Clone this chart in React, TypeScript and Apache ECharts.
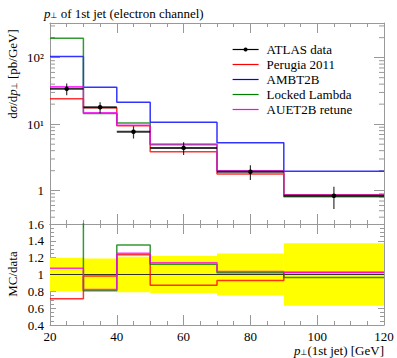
import React, { useEffect, useRef } from 'react';
import * as echarts from 'echarts';

// ---- data ----
const binEdges = [20, 30, 40, 50, 70, 90, 120];
const binCenters = [25, 35, 45, 60, 80, 105];
const dataValues = [34, 18.0, 7.7, 4.4, 1.93, 0.84];
const dataRelErr = [0.2, 0.19, 0.21, 0.22, 0.25, 0.37];
const perugia2011 = [24.2, 17.7, 9.5, 3.84, 1.79, 0.86];
const ambt2b = [104, 36, 21.4, 10.7, 5.25, 1.97];
const lockedLambda = [196, 14.5, 10.4, 4.93, 1.97, 0.81];
const auet2bRetune = [36.5, 14.8, 9.64, 5.02, 2.0, 0.863];
const mainMajorLabels: Record<string, string> = { '1': '1', '10': '10¹', '100': '10²' };
const logMinorTicks = [0.4, 0.5, 0.6, 0.7, 0.8, 0.9, 2, 3, 4, 5, 6, 7, 8, 9, 20, 30, 40, 50, 60, 70, 80, 90, 200, 300];

const FONT = '"Liberation Serif", "DejaVu Serif", serif';
const FS = 13;
const AX = '#999';

const mcSeries = [
  { name: 'Perugia 2011', values: perugia2011, color: '#ff0000' },
  { name: 'AMBT2B', values: ambt2b, color: '#0000ff' },
  { name: 'Locked Lambda', values: lockedLambda, color: '#008000' },
  { name: 'AUET2B retune', values: auet2bRetune, color: '#ff00ff' },
];

const stepData = (vals: number[]) => binEdges.map((x, i) => [x, vals[Math.min(i, vals.length - 1)]]);

export default function App() {
  const ref = useRef<HTMLDivElement>(null);
  useEffect(() => {
    if (!ref.current) return;
    const chart = echarts.init(ref.current, undefined, { renderer: 'svg' });

    const xCommon = (gridIndex: number, position: string, showLabel: boolean) => ({
      type: 'value', gridIndex, position, min: 20, max: 120, interval: 20,
      axisLine: { show: true, lineStyle: { color: AX, width: 1 } },
      axisTick: { show: true, inside: true, length: 10, lineStyle: { color: AX } },
      minorTick: { show: true, splitNumber: 4, length: 4, lineStyle: { color: AX } },
      splitLine: { show: false },
      axisLabel: { show: showLabel, margin: 5, color: '#000', fontFamily: FONT, fontSize: FS, lineHeight: 12, hideOverlap: false },
    });
    const yLog = (position: string, showLabel: boolean) => ({
      type: 'log', logBase: 10, gridIndex: 0, position, min: 0.316, max: 332,
      axisLine: { show: true, lineStyle: { color: AX, width: 1 } },
      axisTick: { show: true, inside: true, length: 10, lineStyle: { color: AX } },
      splitLine: { show: false },
      axisLabel: {
        show: showLabel, margin: 6, color: '#000', fontFamily: FONT, fontSize: FS,
        showMinLabel: false, showMaxLabel: false,
        formatter: (v: number) => mainMajorLabels[String(Math.round(v * 1000) / 1000)] ?? '',
      },
    });
    const yRatio = (position: string, showLabel: boolean) => ({
      type: 'value', gridIndex: 1, position, min: 0.4, max: 1.6, interval: 0.2,
      axisLine: { show: true, lineStyle: { color: AX, width: 1 } },
      axisTick: { show: true, inside: true, length: 6, lineStyle: { color: AX } },
      minorTick: { show: true, splitNumber: 4, length: 4, lineStyle: { color: AX } },
      splitLine: { show: false },
      axisLabel: {
        show: showLabel, margin: 6, color: '#000', fontFamily: FONT, fontSize: FS,
        formatter: (v: number) => String(Math.round(v * 10) / 10),
      },
    });

    const series: any[] = [];
    // ratio band (data uncertainty)
    series.push({
      type: 'custom', name: 'data band', xAxisIndex: 2, yAxisIndex: 2, z: 1,
      data: binCenters.map((_, i) => [binEdges[i], binEdges[i + 1], 1 - dataRelErr[i], 1 + dataRelErr[i]]),
      encode: { x: [0, 1], y: [2, 3] },
      renderItem: (params: any, api: any) => {
        const a = api.coord([api.value(0), api.value(3)]);
        const b = api.coord([api.value(1), api.value(2)]);
        const c1 = api.coord([api.value(0), 1]);
        const c2 = api.coord([api.value(1), 1]);
        return {
          type: 'group', children: [
            { type: 'rect', shape: { x: a[0], y: a[1], width: b[0] - a[0], height: b[1] - a[1] }, style: { fill: '#ffff00' } },
            { type: 'line', shape: { x1: c1[0], y1: c1[1], x2: c2[0], y2: c2[1] }, style: { stroke: '#333', lineWidth: 1 } },
          ],
        };
      },
    });
    // data bars + errors (main)
    series.push({
      type: 'custom', name: 'data bars', xAxisIndex: 0, yAxisIndex: 0, z: 5,
      data: binCenters.map((c, i) => [binEdges[i], binEdges[i + 1], c, dataValues[i], dataValues[i] * (1 - dataRelErr[i]), dataValues[i] * (1 + dataRelErr[i])]),
      encode: { x: [0, 1, 2], y: [3, 4, 5] },
      renderItem: (params: any, api: any) => {
        const y = api.value(3);
        const p1 = api.coord([api.value(0), y]);
        const p2 = api.coord([api.value(1), y]);
        const e1 = api.coord([api.value(2), api.value(4)]);
        const e2 = api.coord([api.value(2), api.value(5)]);
        return {
          type: 'group', children: [
            { type: 'line', shape: { x1: p1[0], y1: p1[1], x2: p2[0], y2: p2[1] }, style: { stroke: '#000', lineWidth: 2, opacity: 0.8 } },
            { type: 'line', shape: { x1: e1[0], y1: e1[1], x2: e2[0], y2: e2[1] }, style: { stroke: '#000', lineWidth: 1.2, opacity: 0.8 } },
          ],
        };
      },
    });
    // data points (legend entry)
    const pts: any[] = [];
    binCenters.forEach((c, i) => { pts.push([c, dataValues[i]]); if (i < binCenters.length - 1) pts.push([binEdges[i + 1], '-']); });
    series.push({
      type: 'line', name: 'ATLAS data', xAxisIndex: 0, yAxisIndex: 0, z: 6,
      data: pts, symbol: 'circle', symbolSize: 4.5, showSymbol: true, showAllSymbol: true, connectNulls: false,
      itemStyle: { color: '#000' }, lineStyle: { color: '#000', width: 1.2 },
    });
    // MC main + ratio
    mcSeries.forEach((m) => {
      series.push({
        type: 'line', name: m.name, xAxisIndex: 0, yAxisIndex: 0, step: 'end', symbol: 'none', z: 3,
        data: stepData(m.values), lineStyle: { color: m.color, width: 1.5, opacity: 0.8 }, itemStyle: { color: m.color },
      });
      series.push({
        type: 'line', name: m.name, xAxisIndex: 2, yAxisIndex: 2, step: 'end', symbol: 'none', z: 3,
        data: stepData(m.values.map((v, i) => v / dataValues[i])), lineStyle: { color: m.color, width: 1.5, opacity: 0.8 }, itemStyle: { color: m.color },
      });
    });
    // log minor ticks on both sides of main plot
    series.push({
      type: 'custom', name: 'minor ticks', xAxisIndex: 0, yAxisIndex: 0, z: 2, silent: true,
      data: logMinorTicks.map((v) => [20, v]),
      encode: { x: 0, y: 1 },
      renderItem: (params: any, api: any) => {
        const v = api.value(1);
        const l = api.coord([20, v]);
        const r = api.coord([120, v]);
        return {
          type: 'group', children: [
            { type: 'line', shape: { x1: l[0], y1: l[1], x2: l[0] + 5, y2: l[1] }, style: { stroke: AX, lineWidth: 1 } },
            { type: 'line', shape: { x1: r[0] - 5, y1: r[1], x2: r[0], y2: r[1] }, style: { stroke: AX, lineWidth: 1 } },
          ],
        };
      },
    });

    const perp = { fontSize: 8, fontFamily: 'DejaVu Sans', verticalAlign: 'bottom' };
    const ital = { fontStyle: 'italic', fontFamily: FONT, fontSize: FS };
    const option: any = {
      animation: false,
      grid: [
        { left: 50, right: 13, top: 23, height: 201 },
        { left: 50, right: 13, top: 224, height: 101 },
      ],
      xAxis: [xCommon(0, 'bottom', false), xCommon(0, 'top', false), xCommon(1, 'bottom', true), xCommon(1, 'top', false)],
      yAxis: [yLog('left', true), yLog('right', false), yRatio('left', true), yRatio('right', false)],
      legend: {
        orient: 'vertical', left: 227, top: 37, itemWidth: 26, itemHeight: 5, itemGap: 0,
        selectedMode: false,
        lineStyle: { width: 1.2, opacity: 1 },
        textStyle: { fontFamily: FONT, fontSize: FS, color: '#000', lineHeight: 15, padding: [0, 0, 0, 3] },
        data: [
          { name: 'ATLAS data' },
          ...mcSeries.map((m) => ({ name: m.name, itemStyle: { opacity: 0 } })),
        ],
      },
      graphic: [
        {
          type: 'text', x: 44, y: 13,
          style: {
            text: '{i|p}{s|⊥} of 1st jet (electron channel)', align: 'left', verticalAlign: 'middle',
            font: `${FS}px ${FONT}`, fill: '#000',
            rich: { i: ital, s: perp },
          },
        },
        {
          type: 'text', x: 12, y: 74, rotation: Math.PI / 2,
          style: {
            text: 'd{g|σ}/d{i|p}{s|⊥} [pb/GeV]', align: 'center', verticalAlign: 'middle',
            font: `${FS}px ${FONT}`, fill: '#000',
            rich: { i: ital, g: ital, s: perp },
          },
        },
        {
          type: 'text', x: 12, y: 274, rotation: Math.PI / 2,
          style: { text: 'MC/data', align: 'center', verticalAlign: 'middle', font: `${FS}px ${FONT}`, fill: '#000' },
        },
        {
          type: 'text', x: 384, y: 350,
          style: {
            text: '{i|p}{s|⊥}(1st jet) [GeV]', align: 'right', verticalAlign: 'middle',
            font: `${FS}px ${FONT}`, fill: '#000',
            rich: { i: ital, s: perp },
          },
        },
      ],
      series,
    };
    chart.setOption(option);
    return () => chart.dispose();
  }, []);
  return <div ref={ref} style={{ position: 'absolute', left: 0, top: 0, width: 397, height: 358 }} />;
}
